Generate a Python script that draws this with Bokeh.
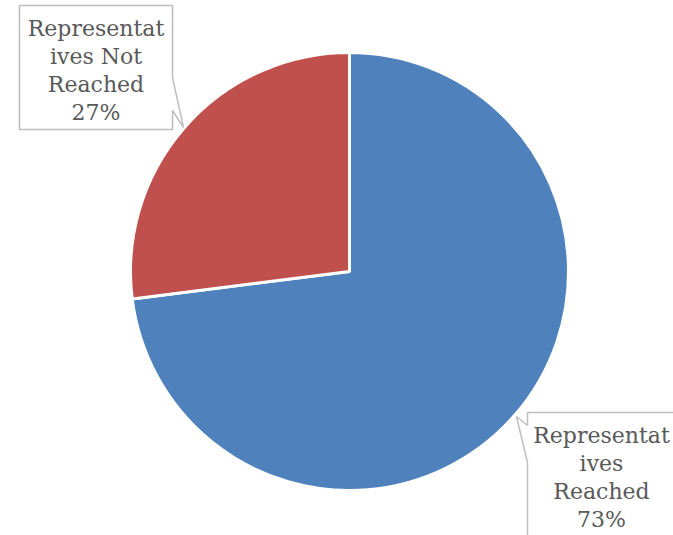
import math
from bokeh.plotting import figure
from bokeh.models import Range1d
from bokeh.core.properties import value
from bokeh.embed import file_html
from bokeh.resources import INLINE

# ---- data ----
categories = ["Representatives Reached", "Representatives Not Reached"]
values = [73, 27]
label_lines = [["Representat", "ives", "Reached"], ["Representat", "ives Not", "Reached"]]
colors = ["#4F81BD", "#C0504D"]

W, H = 673, 535
p = figure(width=W, height=H, output_backend="svg", toolbar_location=None,
           x_range=Range1d(0, W), y_range=Range1d(-H, 0),
           min_border=0)
p.axis.visible = False
p.grid.visible = False
p.outline_line_color = None
p.background_fill_color = "white"

cx, cy, r = 349, -271, 219
total = sum(values)
cum = 0
for v, c in zip(values, colors):
    start = math.radians(90 - (cum + v) / total * 360)
    end = math.radians(90 - cum / total * 360)
    p.wedge(x=cx, y=cy, radius=r, start_angle=start, end_angle=end,
            fill_color=c, line_color="white", line_width=3)
    cum += v

# ---- callout boxes ----
border = "#BFBFBF"
# right box (Reached)
bx = [527, 700, 700, 527, 527, 516, 527]
by = [412, 412, 560, 560, 462, 416, 425]
p.patch(x=bx, y=[-y for y in by], fill_color="white", line_color=border, line_width=1.5)
# left box (Not reached)
lx = [19, 172, 172, 183, 172, 172, 19]
ly = [5, 5, 77, 127, 110, 129, 129]
p.patch(x=lx, y=[-y for y in ly], fill_color="white", line_color=border, line_width=1.5)

centers = [(601, 435), (95.5, 28)]
step = 28
for lines, v, (tx, ty) in zip(label_lines, values, centers):
    all_lines = lines + [f"{v}%"]
    xs = [tx] * len(all_lines)
    ys = [-(ty + i * step) for i in range(len(all_lines))]
    p.text(x=xs, y=ys, text=all_lines, text_align="center", text_baseline="middle",
           text_font=value("DejaVu Serif"), text_font_size="22px", text_color="#595959")

open("out.html", "w").write(file_html(p, INLINE))
